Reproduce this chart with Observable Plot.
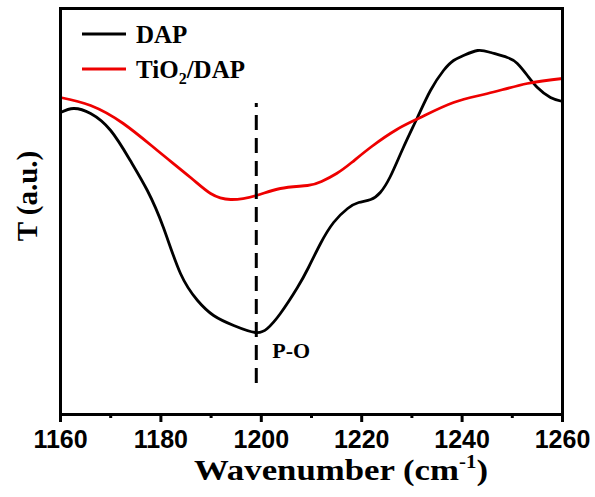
<!DOCTYPE html>
<html>
<head>
<meta charset="utf-8">
<script src="https://cdn.jsdelivr.net/npm/d3@7"></script>
<script src="https://cdn.jsdelivr.net/npm/@observablehq/plot@0.6"></script>
<style>
  html, body { margin: 0; padding: 0; background: #fff; }
  #chart { width: 595px; height: 497px; }
</style>
</head>
<body>
<div id="chart"></div>
<script>
// ---- data ----
const seriesNames = ["DAP", "TiO2/DAP"];
const wnDAP = [1160, 1162.6, 1166, 1170, 1173.9, 1177.3, 1180.5, 1183.9, 1187.3, 1190.5, 1194.5, 1198.8, 1201.2, 1203.8, 1207.2, 1209.4, 1211.8, 1214.4, 1217.2, 1219.4, 1221.8, 1223.7, 1225.7, 1228.3, 1231.1, 1233.7, 1236.3, 1238.3, 1240.3, 1243.1, 1245.7, 1249, 1251, 1253, 1255, 1257.6, 1260];
const tDAP  = [302, 306, 301, 284, 254, 224, 187, 141, 114, 99, 89, 82, 86, 101, 127, 147, 171, 192, 206, 212, 215, 222, 238, 267, 297, 324, 344, 354, 359, 364, 362, 357, 351, 339, 327, 317, 313];
const wnTiO2 = [1160, 1166, 1172.5, 1179.3, 1185.9, 1189.9, 1193.9, 1199, 1203.8, 1209.2, 1212, 1215, 1218, 1222, 1227, 1231.7, 1238.3, 1245.1, 1253, 1260];
const tTiO2  = [317, 309, 291, 264, 237, 221, 215, 219, 226, 229, 233, 241, 252, 268, 285, 297, 312, 321, 331, 336];
const majorTicks = [1160, 1180, 1200, 1220, 1240, 1260];
const minorTicks = [1170, 1190, 1210, 1230, 1250];
const peakWn = [1199];
const peakY1 = [31];
const peakY2 = [311];
const peakLabel = ["P-O"];
const peakLabelX = [1202.2];
const peakLabelY = [64];

const dap = wnDAP.map((x, i) => ({x, y: tDAP[i]}));
const tio2 = wnTiO2.map((x, i) => ({x, y: tTiO2[i]}));
const peaks = peakWn.map((x, i) => ({x, y1: peakY1[i], y2: peakY2[i]}));
const labels = peakLabel.map((t, i) => ({t, x: peakLabelX[i], y: peakLabelY[i]}));

const RED = "#ee0000";
const serif = "'Liberation Serif', 'Times New Roman', serif";
const sans = "'Liberation Sans', Arial, sans-serif";

const plot = Plot.plot({
  width: 595,
  height: 497,
  marginLeft: 60,
  marginRight: 33,
  marginTop: 8,
  marginBottom: 83,
  style: {background: "white", overflow: "visible"},
  x: {domain: [1160, 1260]},
  y: {domain: [0, 406], axis: null},
  marks: [
    Plot.line(dap, {x: "x", y: "y", stroke: "black", strokeWidth: 2.8, curve: "natural"}),
    Plot.line(tio2, {x: "x", y: "y", stroke: RED, strokeWidth: 2.8, curve: "natural"}),
    Plot.ruleX(peaks, {x: "x", y1: "y1", y2: "y2", stroke: "black", strokeWidth: 3, strokeDasharray: "15,8"}),
    Plot.text(labels, {x: "x", y: "y", text: "t", textAnchor: "start", fontSize: 22, fontWeight: "bold", fontFamily: serif, fill: "black"}),
    Plot.frame({stroke: "black", strokeWidth: 3}),
    Plot.axisX({ticks: minorTicks, tickSize: 4, strokeWidth: 3, tickFormat: () => "", label: null}),
    Plot.axisX({ticks: majorTicks, tickSize: 8, strokeWidth: 3, tickPadding: 8, tickFormat: d => String(d),
      fontSize: 25, fontWeight: "bold", fontFamily: sans, fill: "black", label: null})
  ]
});

document.getElementById("chart").appendChild(plot);

// ---- titles and legend ----
const svg = d3.select(plot);

// x title
const xt = svg.append("text")
  .attr("x", 341).attr("y", 480)
  .attr("text-anchor", "middle")
  .attr("font-family", serif).attr("font-weight", "bold").attr("font-size", 30)
  .attr("textLength", 294).attr("lengthAdjust", "spacingAndGlyphs")
  .attr("fill", "black");
xt.append("tspan").text("Wavenumber (cm");
xt.append("tspan").attr("font-size", 18).attr("dy", -12).text("-1");
xt.append("tspan").attr("dy", 12).text(")");

// y title
svg.append("text")
  .attr("transform", "translate(37,196) rotate(-90)")
  .attr("text-anchor", "middle")
  .attr("font-family", serif).attr("font-weight", "bold").attr("font-size", 29)
  .attr("fill", "black")
  .text("T (a.u.)");

// legend
const leg = svg.append("g").attr("text-anchor", "start");
const legendColors = ["black", RED];
seriesNames.forEach((name, i) => {
  const cy = 34 + i * 35;
  leg.append("line").attr("x1", 82).attr("x2", 126).attr("y1", cy).attr("y2", cy)
    .attr("stroke", legendColors[i]).attr("stroke-width", 3);
  const t = leg.append("text").attr("x", 136).attr("y", cy + 9)
    .attr("text-anchor", "start")
    .attr("font-family", serif).attr("font-weight", "bold").attr("font-size", 25).attr("fill", "black");
  if (name === "TiO2/DAP") {
    t.append("tspan").text("TiO");
    t.append("tspan").attr("font-size", 16).attr("dy", 6).text("2");
    t.append("tspan").attr("dy", -6).text("/DAP");
  } else {
    t.text(name);
  }
});
</script>
</body>
</html>
